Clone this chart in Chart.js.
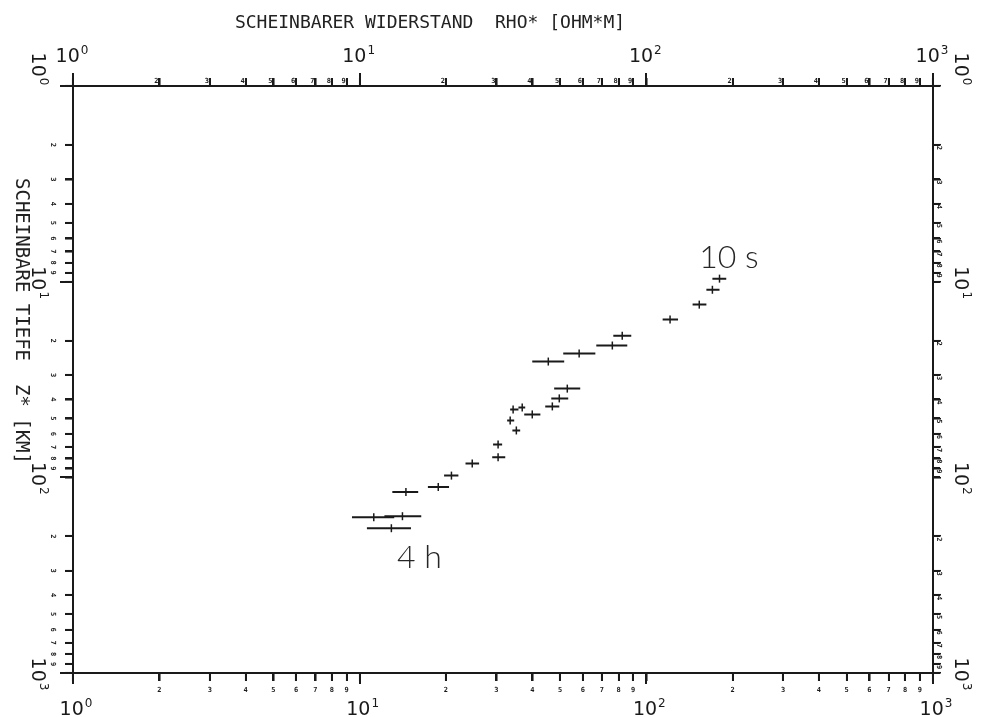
<!DOCTYPE html>
<html><head><meta charset="utf-8">
<script src="https://cdn.jsdelivr.net/npm/chart.js@4.4.1/dist/chart.umd.min.js"></script>
<style>html,body{margin:0;padding:0;background:#fff;}#wrap{width:985px;height:717px;}</style>
</head><body><div id="wrap"><canvas id="c" width="985" height="717"></canvas></div>
<script>
// ---- data ----
const rho    = [11.2, 14.1, 12.9, 14.5, 18.8, 20.9, 24.7, 30.4, 30.4, 35.2, 33.5, 34.3, 36.9, 40.0, 47.0, 49.7, 53.0, 45.5, 58.3, 76.1, 82.4, 121, 153, 170, 180];
const rhoMin = [ 9.4, 12.2, 10.6, 13.0, 17.3, 19.7, 23.4, 29.0, 29.2, 34.1, 32.7, 33.5, 35.8, 37.5, 44.4, 46.6, 47.7, 40.0, 51.3, 66.9, 76.7, 114, 145, 162, 170];
const rhoMax = [13.2, 16.4, 15.1, 16.0, 20.5, 22.1, 26.1, 32.2, 31.4, 36.3, 34.6, 35.8, 37.8, 42.7, 49.7, 53.4, 58.8, 51.7, 66.4, 85.8, 88.6, 129, 162, 180, 190];
const depth  = [160, 158, 182, 119, 112, 98, 85, 79, 68, 57.6, 51.2, 45.0, 43.9, 47.7, 43.4, 39.5, 35.2, 25.6, 23.3, 21.2, 18.9, 15.6, 13.1, 11.0, 9.65];

const decadeValues    = [1, 10, 100, 1000];
const decadeExponents = ['0', '1', '2', '3'];
const minorDigits     = [2, 3, 4, 5, 6, 7, 8, 9];

const xTitle = 'SCHEINBARER WIDERSTAND  RHO* [OHM*M]';
const yTitle = 'SCHEINBARE TIEFE  Z* [KM]';
const noteTexts = ['10 s', '4 h'];
const noteRho   = [153, 13.5];
const noteDepth = [8.5, 290];

// ---- derived ----
const INK = '#1a1a1a';
const tickValues = [];
decadeValues.slice(0, 3).forEach(d => { tickValues.push(d); minorDigits.forEach(m => tickValues.push(m * d)); });
tickValues.push(1000);

const points = rho.map((r, i) => ({x: r, y: depth[i]}));
const bars = [];
rho.forEach((r, i) => { bars.push({x: rhoMin[i], y: depth[i]}, {x: rhoMax[i], y: depth[i]}, {x: null, y: null}); });

function logScale(axis, position, reverse, size) {
  return {
    type: 'logarithmic', axis, position, reverse, min: 1, max: 1000,
    afterBuildTicks(s) { s.ticks = tickValues.map(v => ({value: v, major: decadeValues.includes(v)})); },
    afterFit(s) { if (axis === 'x') s.height = size; else s.width = size; },
    ticks: {display: false, autoSkip: false},
    grid: {display: true, drawOnChartArea: false, drawTicks: true, tickLength: 8,
           color: INK, lineWidth: 1.5, tickColor: INK, tickWidth: 1.6},
    border: {display: true, color: INK, width: 2}
  };
}

function powLabel(ctx, exp, cx, baseY, big, small, rise) {
  ctx.font = big + 'px "DejaVu Sans"';
  const w1 = ctx.measureText('10').width;
  ctx.font = small + 'px "DejaVu Sans"';
  const w2 = ctx.measureText(exp).width;
  const start = cx - (w1 + 1 + w2) / 2;
  ctx.textAlign = 'left'; ctx.textBaseline = 'alphabetic';
  ctx.font = big + 'px "DejaVu Sans"';
  ctx.fillText('10', start, baseY);
  ctx.font = small + 'px "DejaVu Sans"';
  ctx.fillText(exp, start + w1 + 1, baseY - rise);
}
function seg(ctx, x1, y1, x2, y2) { ctx.beginPath(); ctx.moveTo(x1, y1); ctx.lineTo(x2, y2); ctx.stroke(); }

const decor = {
  id: 'decor',
  afterDraw(chart) {
    const {ctx, scales, chartArea: ca} = chart;
    const X = scales.x, Y = scales.y;
    ctx.save();
    ctx.setLineDash([]); ctx.globalAlpha = 1;
    ctx.fillStyle = INK; ctx.strokeStyle = INK; ctx.lineWidth = 2; ctx.lineCap = 'butt';
    // tick marks on all four sides (decades longer on left/top/bottom)
    tickValues.forEach(v => {
      const major = decadeValues.includes(v);
      const px = Math.round(X.getPixelForValue(v)), py = Math.round(Y.getPixelForValue(v));
      seg(ctx, px, ca.top, px, ca.top - (major ? 13 : 8));
      seg(ctx, px, ca.bottom, px, ca.bottom + (major ? 11 : 8));
      seg(ctx, ca.left, py, ca.left - (major ? 13 : 8), py);
      seg(ctx, ca.right, py, ca.right + 7, py);
    });
    // decade labels
    decadeValues.forEach((v, i) => {
      const px = X.getPixelForValue(v);
      const py = Y.getPixelForValue(v);
      powLabel(ctx, decadeExponents[i], px - 1, 62, 19, 12, 8);
      powLabel(ctx, decadeExponents[i], px + 3, 715, 19, 12, 8);
      const cy = i === 0 ? py - 17 : py + 1;
      ctx.save(); ctx.translate(32, cy); ctx.rotate(Math.PI / 2);
      powLabel(ctx, decadeExponents[i], 0, 0, 19, 12, 8); ctx.restore();
      ctx.save(); ctx.translate(955, cy); ctx.rotate(Math.PI / 2);
      powLabel(ctx, decadeExponents[i], 0, 0, 19, 12, 8); ctx.restore();
    });
    // minor digits
    ctx.font = 'bold 7px "DejaVu Sans Mono"';
    ctx.textAlign = 'center'; ctx.textBaseline = 'middle';
    tickValues.forEach(v => {
      const m = Math.round(v / Math.pow(10, Math.floor(Math.log10(v) + 1e-9)));
      if (!minorDigits.includes(m)) return;
      const px = X.getPixelForValue(v), py = Y.getPixelForValue(v);
      ctx.fillText(String(m), px - 3, ca.top - 5);
      ctx.fillText(String(m), px, ca.bottom + 17);
      ctx.save(); ctx.translate(ca.left - 20, py); ctx.rotate(Math.PI / 2); ctx.fillText(String(m), 0, 0); ctx.restore();
      ctx.save(); ctx.translate(ca.right + 6, py + 3); ctx.rotate(Math.PI / 2); ctx.fillText(String(m), 0, 0); ctx.restore();
    });
    // axis titles
    ctx.textAlign = 'center'; ctx.textBaseline = 'alphabetic';
    ctx.font = '18px "DejaVu Sans Mono"';
    ctx.fillStyle = '#222';
    ctx.fillText(xTitle, 430, 28);
    ctx.save(); ctx.translate(16, 321); ctx.rotate(Math.PI / 2);
    ctx.font = '19px "DejaVu Sans Mono"';
    ctx.fillText(yTitle, 0, 0); ctx.restore();
    // annotations
    ctx.fillStyle = '#262626';
    ctx.font = '300 32px Lato, "DejaVu Sans"';
    ctx.textAlign = 'left';
    noteTexts.forEach((t, i) => {
      ctx.fillText(t, X.getPixelForValue(noteRho[i]), Y.getPixelForValue(noteDepth[i]));
    });
    ctx.restore();
  }
};

new Chart(document.getElementById('c'), {
  type: 'scatter',
  data: {
    datasets: [
      {data: bars, showLine: true, spanGaps: false, pointRadius: 0, borderColor: INK, borderWidth: 2, xAxisID: 'x', yAxisID: 'y'},
      {data: points, showLine: false, pointStyle: 'line', rotation: 90, pointRadius: 4, borderColor: INK, borderWidth: 1.5, xAxisID: 'x', yAxisID: 'y'}
    ]
  },
  options: {
    responsive: false, animation: false, devicePixelRatio: 1,
    layout: {padding: 0},
    plugins: {legend: {display: false}, tooltip: {enabled: false}, title: {display: false}},
    scales: {
      x:  logScale('x', 'bottom', false, 44),
      x2: logScale('x', 'top', false, 86),
      y:  logScale('y', 'left', true, 73),
      y2: logScale('y', 'right', true, 52)
    }
  },
  plugins: [decor]
});
</script></body></html>
